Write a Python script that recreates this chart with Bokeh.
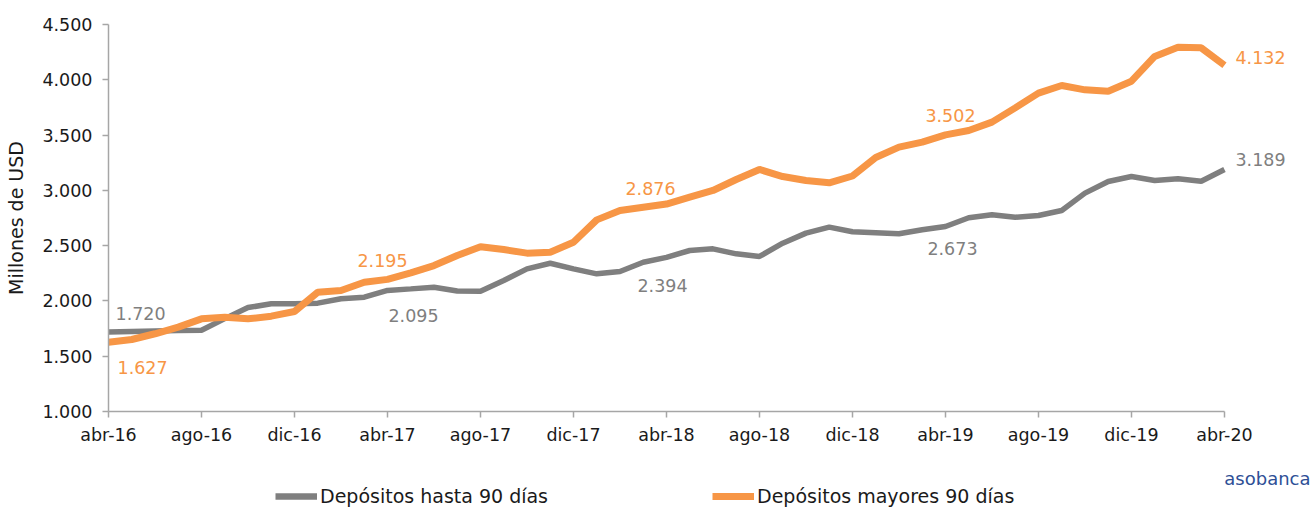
from bokeh.plotting import figure
from bokeh.layouts import column
from bokeh.models import FixedTicker, Legend, LegendItem, Label, ColumnDataSource
from bokeh.core.properties import value
from bokeh.embed import file_html
from bokeh.resources import INLINE

months = list(range(49))
tick_labels = ["abr-16", "ago-16", "dic-16", "abr-17", "ago-17", "dic-17", "abr-18",
               "ago-18", "dic-18", "abr-19", "ago-19", "dic-19", "abr-20"]

hasta_90 = [1720, 1724, 1728, 1732, 1735, 1840, 1940, 1974, 1975, 1980, 2019, 2034,
            2095, 2109, 2124, 2090, 2088, 2185, 2290, 2341, 2290, 2245, 2266, 2350,
            2394, 2456, 2471, 2426, 2402, 2522, 2613, 2667, 2625, 2616, 2607, 2643,
            2673, 2752, 2779, 2757, 2773, 2818, 2975, 3080, 3125, 3089, 3104, 3083,
            3189]
mayores_90 = [1627, 1651, 1703, 1763, 1838, 1853, 1838, 1862, 1904, 2079, 2094, 2169,
              2195, 2254, 2320, 2411, 2490, 2465, 2432, 2441, 2531, 2733, 2818, 2848,
              2876, 2938, 2999, 3098, 3189, 3125, 3089, 3068, 3130, 3297, 3391, 3436,
              3502, 3541, 3617, 3746, 3879, 3948, 3909, 3897, 3987, 4211, 4295, 4289,
              4132]

GRAY = "#7f7f7f"
ORANGE = "#f79646"
TXT = "#1a1a1a"
FONT = "DejaVu Sans"
FS = "17.5px"

p = figure(width=1313, height=464, output_backend="svg", toolbar_location=None,
           x_range=(0, 51.83), y_range=(1000, 4500),
           min_border_left=108, min_border_right=0, min_border_top=24,
           min_border_bottom=53)
p.outline_line_color = None
p.background_fill_color = "white"
p.border_fill_color = "white"
p.xgrid.visible = False
p.ygrid.visible = False

r1 = p.line(months, hasta_90, line_color=GRAY, line_width=5.5)
r2 = p.line(months, mayores_90, line_color=ORANGE, line_width=7)

# axes
p.yaxis.ticker = FixedTicker(ticks=list(range(1000, 4501, 500)))
p.yaxis.major_label_overrides = {v: f"{v:,}".replace(",", ".") for v in range(1000, 4501, 500)}
p.xaxis.ticker = FixedTicker(ticks=list(range(0, 49, 4)))
p.xaxis.major_label_overrides = {i * 4: lab for i, lab in enumerate(tick_labels)}
p.xaxis.bounds = (0, 48)
for ax in (p.xaxis, p.yaxis):
    ax.axis_line_color = "#a6a6a6"
    ax.axis_line_width = 1.5
    ax.major_tick_line_color = "#a6a6a6"
    ax.major_tick_line_width = 1.5
    ax.major_tick_out = 6
    ax.major_tick_in = 0
    ax.minor_tick_line_color = None
    ax.major_label_text_font = FONT
    ax.major_label_text_font_size = FS
    ax.major_label_text_color = TXT
p.yaxis.major_label_standoff = 10
p.xaxis.major_label_standoff = 7
p.yaxis.axis_label = "Millones de USD"
p.yaxis.axis_label_text_font = FONT
p.yaxis.axis_label_text_font_size = "19px"
p.yaxis.axis_label_text_font_style = "normal"
p.yaxis.axis_label_text_color = TXT
p.yaxis.axis_label_standoff = 12

# data labels
lab_idx = [0, 12, 24, 36, 48]
g_xoff = [7, 26, -4, 7, 11]
g_yoff = [-18, 25, 28, 22, -10]
g_align = ["left", "center", "center", "center", "left"]
o_xoff = [9, -5, -16, 5, 11]
o_yoff = [25, -19, -16, -19, -8]
o_align = ["left", "center", "center", "center", "left"]


def fmt(v):
    return f"{v:,}".replace(",", ".")


src_g = ColumnDataSource(dict(x=[months[i] for i in lab_idx], y=[hasta_90[i] for i in lab_idx],
                              t=[fmt(hasta_90[i]) for i in lab_idx], xo=g_xoff, yo=g_yoff, al=g_align))
src_o = ColumnDataSource(dict(x=[months[i] for i in lab_idx], y=[mayores_90[i] for i in lab_idx],
                              t=[fmt(mayores_90[i]) for i in lab_idx], xo=o_xoff, yo=o_yoff, al=o_align))
p.text(x="x", y="y", text="t", x_offset="xo", y_offset="yo", text_align="al", source=src_g,
       text_baseline="middle", text_color=GRAY, text_font=value(FONT), text_font_size=FS)
p.text(x="x", y="y", text="t", x_offset="xo", y_offset="yo", text_align="al", source=src_o,
       text_baseline="middle", text_color=ORANGE, text_font=value(FONT), text_font_size=FS)

# legend strip with logo (its frame is aligned with the chart frame, left = 108px)
p2 = figure(width=1313, height=43, output_backend="svg", toolbar_location=None,
            x_range=(0, 1), y_range=(0, 1), x_axis_type=None, y_axis_type=None,
            min_border=0)
p2.outline_line_color = None
p2.xgrid.visible = False
p2.ygrid.visible = False
# same series, out of this strip's ranges: only their legend glyphs show
l1 = p2.line(months, hasta_90, line_color=GRAY, line_width=6.5)
l2 = p2.line(months, mayores_90, line_color=ORANGE, line_width=7)
for r, name, lx in ((l1, "Depósitos hasta 90 días", 167), (l2, "Depósitos mayores 90 días", 604)):
    lg = Legend(items=[LegendItem(label=name, renderers=[r])], location=(lx, 0),
                orientation="horizontal", padding=0, margin=0, border_line_color=None,
                background_fill_alpha=0, glyph_width=42, glyph_height=12, label_standoff=3,
                label_text_font=FONT, label_text_font_size="19px", label_text_color=TXT)
    p2.add_layout(lg, "center")

logo = Label(x=1202, y=29, x_units="screen", y_units="screen", text="asobanca",
             text_font=FONT, text_font_size="18px", text_color="#2e4f96",
             text_baseline="middle", text_align="right")
p2.add_layout(logo)

layout = column(p, p2, spacing=0)
open("out.html", "w").write(file_html(layout, INLINE))
